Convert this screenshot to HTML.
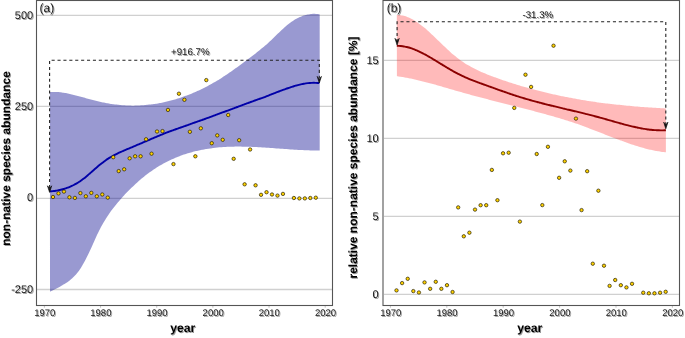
<!DOCTYPE html>
<html><head><meta charset="utf-8"><title>chart</title><style>
html,body{margin:0;padding:0;background:#fff;}
body{width:685px;height:338px;overflow:hidden;}
svg{display:block;}
text{font-family:"Liberation Sans", sans-serif;fill:#1a1a1a;text-rendering:geometricPrecision;}
.grid{stroke:#d0d0d0;stroke-width:1.3;}
.frame{fill:none;stroke:#555;stroke-width:1.1;}
.tick{stroke:#b0b0b0;stroke-width:0.8;}
.dash{fill:none;stroke:#222;stroke-width:1.1;stroke-dasharray:3.1,2.8;}
.arr{fill:#111;stroke:#111;stroke-width:0.7;stroke-linejoin:miter;}
.pl{font-size:12px;}
.ann{font-size:9.7px;}
.yl{font-size:11px;}
.tl{font-size:9.5px;}
.xt{font-size:12.2px;font-weight:bold;fill:#000;}
.yt{font-size:12px;font-weight:bold;fill:#000;}
</style></head><body>
<svg width="685" height="338" viewBox="0 0 685 338">
<defs>
<filter id="sh" x="-10%" y="-10%" width="130%" height="140%"><feGaussianBlur in="SourceAlpha" stdDeviation="0.75"/><feOffset dx="0.9" dy="1.1" result="b"/><feComponentTransfer><feFuncA type="linear" slope="0.4"/></feComponentTransfer><feMerge><feMergeNode/><feMergeNode in="SourceGraphic"/></feMerge></filter>
<clipPath id="ca"><rect x="37" y="1" width="295" height="304"/></clipPath>
<clipPath id="cb"><rect x="384" y="1" width="295" height="304"/></clipPath>
</defs>
<rect width="685" height="338" fill="#fff"/>
<g clip-path="url(#ca)">
<line x1="37" x2="332" y1="15.3" y2="15.3" class="grid"/>
<line x1="37" x2="332" y1="106.3" y2="106.3" class="grid"/>
<line x1="37" x2="332" y1="198.3" y2="198.3" class="grid"/>
<line x1="37" x2="332" y1="289.5" y2="289.5" class="grid"/>
<path d="M49.90,92.12 C50.23,92.10 51.23,92.00 51.90,91.97 C52.57,91.93 53.23,91.91 53.90,91.91 C54.57,91.90 55.23,91.91 55.90,91.93 C56.57,91.95 57.23,91.99 57.90,92.03 C58.57,92.08 59.23,92.14 59.90,92.21 C60.57,92.28 61.23,92.36 61.90,92.45 C62.57,92.54 63.23,92.64 63.90,92.75 C64.57,92.86 65.23,92.98 65.90,93.10 C66.57,93.23 67.23,93.36 67.90,93.50 C68.57,93.64 69.23,93.79 69.90,93.94 C70.57,94.09 71.23,94.25 71.90,94.41 C72.57,94.58 73.23,94.74 73.90,94.91 C74.57,95.09 75.23,95.26 75.90,95.44 C76.57,95.61 77.23,95.79 77.90,95.97 C78.57,96.15 79.23,96.34 79.90,96.52 C80.57,96.70 81.23,96.88 81.90,97.07 C82.57,97.25 83.23,97.43 83.90,97.61 C84.57,97.80 85.23,97.98 85.90,98.16 C86.57,98.34 87.23,98.52 87.90,98.70 C88.57,98.88 89.23,99.05 89.90,99.23 C90.57,99.41 91.23,99.58 91.90,99.75 C92.57,99.93 93.23,100.10 93.90,100.27 C94.57,100.44 95.23,100.60 95.90,100.77 C96.57,100.93 97.23,101.09 97.90,101.25 C98.57,101.41 99.23,101.57 99.90,101.72 C100.57,101.87 101.23,102.02 101.90,102.17 C102.57,102.31 103.23,102.46 103.90,102.59 C104.57,102.73 105.23,102.87 105.90,103.00 C106.57,103.13 107.23,103.25 107.90,103.37 C108.57,103.49 109.23,103.61 109.90,103.72 C110.57,103.83 111.23,103.94 111.90,104.04 C112.57,104.14 113.23,104.24 113.90,104.33 C114.57,104.42 115.23,104.51 115.90,104.59 C116.57,104.68 117.23,104.75 117.90,104.83 C118.57,104.90 119.23,104.97 119.90,105.03 C120.57,105.09 121.23,105.15 121.90,105.20 C122.57,105.26 123.23,105.30 123.90,105.35 C124.57,105.39 125.23,105.43 125.90,105.46 C126.57,105.50 127.23,105.53 127.90,105.55 C128.57,105.57 129.23,105.59 129.90,105.61 C130.57,105.62 131.23,105.63 131.90,105.64 C132.57,105.64 133.23,105.64 133.90,105.64 C134.57,105.63 135.23,105.63 135.90,105.61 C136.57,105.60 137.23,105.58 137.90,105.56 C138.57,105.53 139.23,105.50 139.90,105.47 C140.57,105.44 141.23,105.40 141.90,105.36 C142.57,105.32 143.23,105.27 143.90,105.22 C144.57,105.16 145.23,105.11 145.90,105.05 C146.57,104.99 147.23,104.92 147.90,104.85 C148.57,104.78 149.23,104.70 149.90,104.62 C150.57,104.54 151.23,104.46 151.90,104.37 C152.57,104.28 153.23,104.19 153.90,104.09 C154.57,103.99 155.23,103.88 155.90,103.78 C156.57,103.67 157.23,103.56 157.90,103.44 C158.57,103.32 159.23,103.20 159.90,103.07 C160.57,102.94 161.23,102.81 161.90,102.68 C162.57,102.54 163.23,102.40 163.90,102.26 C164.57,102.11 165.23,101.96 165.90,101.81 C166.57,101.65 167.23,101.49 167.90,101.33 C168.57,101.17 169.23,101.00 169.90,100.82 C170.57,100.65 171.23,100.47 171.90,100.29 C172.57,100.11 173.23,99.92 173.90,99.73 C174.57,99.54 175.23,99.35 175.90,99.15 C176.57,98.95 177.23,98.74 177.90,98.53 C178.57,98.32 179.23,98.11 179.90,97.89 C180.57,97.67 181.23,97.45 181.90,97.22 C182.57,96.99 183.23,96.76 183.90,96.52 C184.57,96.29 185.23,96.05 185.90,95.80 C186.57,95.56 187.23,95.30 187.90,95.05 C188.57,94.79 189.23,94.53 189.90,94.27 C190.57,94.01 191.23,93.74 191.90,93.46 C192.57,93.19 193.23,92.91 193.90,92.62 C194.57,92.34 195.23,92.05 195.90,91.76 C196.57,91.46 197.23,91.16 197.90,90.86 C198.57,90.56 199.23,90.25 199.90,89.93 C200.57,89.62 201.23,89.30 201.90,88.98 C202.57,88.65 203.23,88.32 203.90,87.99 C204.57,87.65 205.23,87.31 205.90,86.97 C206.57,86.62 207.23,86.27 207.90,85.92 C208.57,85.56 209.23,85.20 209.90,84.84 C210.57,84.47 211.23,84.10 211.90,83.72 C212.57,83.34 213.23,82.96 213.90,82.57 C214.57,82.18 215.23,81.79 215.90,81.39 C216.57,80.99 217.23,80.59 217.90,80.18 C218.57,79.77 219.23,79.35 219.90,78.93 C220.57,78.51 221.23,78.09 221.90,77.66 C222.57,77.23 223.23,76.79 223.90,76.35 C224.57,75.92 225.23,75.47 225.90,75.03 C226.57,74.58 227.23,74.13 227.90,73.68 C228.57,73.22 229.23,72.76 229.90,72.30 C230.57,71.84 231.23,71.38 231.90,70.91 C232.57,70.44 233.23,69.97 233.90,69.50 C234.57,69.03 235.23,68.55 235.90,68.07 C236.57,67.59 237.23,67.11 237.90,66.63 C238.57,66.15 239.23,65.66 239.90,65.18 C240.57,64.69 241.23,64.20 241.90,63.71 C242.57,63.23 243.23,62.73 243.90,62.24 C244.57,61.75 245.23,61.26 245.90,60.76 C246.57,60.27 247.23,59.78 247.90,59.28 C248.57,58.78 249.23,58.28 249.90,57.78 C250.57,57.28 251.23,56.77 251.90,56.27 C252.57,55.76 253.23,55.25 253.90,54.74 C254.57,54.22 255.23,53.70 255.90,53.18 C256.57,52.66 257.23,52.13 257.90,51.60 C258.57,51.06 259.23,50.53 259.90,49.98 C260.57,49.44 261.23,48.89 261.90,48.33 C262.57,47.78 263.23,47.21 263.90,46.64 C264.57,46.07 265.23,45.50 265.90,44.91 C266.57,44.33 267.23,43.73 267.90,43.13 C268.57,42.53 269.23,41.92 269.90,41.30 C270.57,40.68 271.23,40.05 271.90,39.42 C272.57,38.78 273.23,38.14 273.90,37.49 C274.57,36.85 275.23,36.20 275.90,35.55 C276.57,34.90 277.23,34.25 277.90,33.61 C278.57,32.96 279.23,32.32 279.90,31.68 C280.57,31.04 281.23,30.41 281.90,29.79 C282.57,29.17 283.23,28.56 283.90,27.97 C284.57,27.37 285.23,26.78 285.90,26.22 C286.57,25.65 287.23,25.10 287.90,24.57 C288.57,24.04 289.23,23.52 289.90,23.03 C290.57,22.53 291.23,22.06 291.90,21.60 C292.57,21.15 293.23,20.71 293.90,20.29 C294.57,19.88 295.23,19.48 295.90,19.10 C296.57,18.72 297.23,18.36 297.90,18.02 C298.57,17.69 299.23,17.37 299.90,17.07 C300.57,16.77 301.23,16.49 301.90,16.24 C302.57,15.98 303.23,15.74 303.90,15.52 C304.57,15.31 305.23,15.11 305.90,14.94 C306.57,14.76 307.23,14.61 307.90,14.47 C308.57,14.34 309.23,14.23 309.90,14.14 C310.57,14.05 311.23,13.98 311.90,13.94 C312.57,13.89 313.23,13.86 313.90,13.86 C314.57,13.86 315.23,13.88 315.90,13.92 C316.57,13.96 317.27,14.03 317.90,14.11 C318.53,14.19 319.40,14.35 319.70,14.39 L319.70,150.53 C319.42,150.53 318.62,150.53 318.00,150.53 C317.38,150.53 316.67,150.53 316.00,150.52 C315.33,150.52 314.67,150.51 314.00,150.50 C313.33,150.49 312.67,150.48 312.00,150.46 C311.33,150.45 310.67,150.43 310.00,150.41 C309.33,150.39 308.67,150.37 308.00,150.35 C307.33,150.33 306.67,150.31 306.00,150.28 C305.33,150.25 304.67,150.23 304.00,150.20 C303.33,150.17 302.67,150.14 302.00,150.11 C301.33,150.07 300.67,150.04 300.00,150.01 C299.33,149.97 298.67,149.94 298.00,149.90 C297.33,149.86 296.67,149.82 296.00,149.78 C295.33,149.74 294.67,149.70 294.00,149.66 C293.33,149.62 292.67,149.58 292.00,149.53 C291.33,149.49 290.67,149.45 290.00,149.40 C289.33,149.36 288.67,149.31 288.00,149.26 C287.33,149.22 286.67,149.17 286.00,149.12 C285.33,149.08 284.67,149.03 284.00,148.98 C283.33,148.93 282.67,148.88 282.00,148.84 C281.33,148.79 280.67,148.74 280.00,148.69 C279.33,148.64 278.67,148.59 278.00,148.54 C277.33,148.49 276.67,148.44 276.00,148.40 C275.33,148.35 274.67,148.30 274.00,148.25 C273.33,148.20 272.67,148.15 272.00,148.11 C271.33,148.06 270.67,148.01 270.00,147.96 C269.33,147.92 268.67,147.87 268.00,147.82 C267.33,147.78 266.67,147.73 266.00,147.69 C265.33,147.64 264.67,147.60 264.00,147.56 C263.33,147.52 262.67,147.47 262.00,147.43 C261.33,147.39 260.67,147.35 260.00,147.31 C259.33,147.27 258.67,147.24 258.00,147.20 C257.33,147.16 256.67,147.13 256.00,147.10 C255.33,147.06 254.67,147.03 254.00,147.00 C253.33,146.97 252.67,146.94 252.00,146.91 C251.33,146.88 250.67,146.86 250.00,146.83 C249.33,146.81 248.67,146.79 248.00,146.76 C247.33,146.74 246.67,146.72 246.00,146.71 C245.33,146.69 244.67,146.68 244.00,146.66 C243.33,146.65 242.67,146.64 242.00,146.63 C241.33,146.62 240.67,146.62 240.00,146.61 C239.33,146.61 238.67,146.61 238.00,146.61 C237.33,146.61 236.67,146.61 236.00,146.62 C235.33,146.62 234.67,146.63 234.00,146.64 C233.33,146.65 232.67,146.67 232.00,146.69 C231.33,146.70 230.67,146.72 230.00,146.74 C229.33,146.77 228.67,146.79 228.00,146.82 C227.33,146.85 226.67,146.88 226.00,146.92 C225.33,146.95 224.67,146.99 224.00,147.03 C223.33,147.07 222.67,147.12 222.00,147.17 C221.33,147.22 220.67,147.27 220.00,147.32 C219.33,147.38 218.67,147.44 218.00,147.50 C217.33,147.56 216.67,147.63 216.00,147.70 C215.33,147.77 214.67,147.84 214.00,147.92 C213.33,148.00 212.67,148.08 212.00,148.17 C211.33,148.26 210.67,148.35 210.00,148.44 C209.33,148.54 208.67,148.63 208.00,148.74 C207.33,148.84 206.67,148.95 206.00,149.06 C205.33,149.17 204.67,149.29 204.00,149.41 C203.33,149.53 202.67,149.66 202.00,149.79 C201.33,149.92 200.67,150.06 200.00,150.20 C199.33,150.34 198.67,150.48 198.00,150.63 C197.33,150.79 196.67,150.94 196.00,151.10 C195.33,151.26 194.67,151.43 194.00,151.60 C193.33,151.77 192.67,151.95 192.00,152.13 C191.33,152.31 190.67,152.50 190.00,152.69 C189.33,152.89 188.67,153.08 188.00,153.29 C187.33,153.49 186.67,153.70 186.00,153.92 C185.33,154.14 184.67,154.36 184.00,154.59 C183.33,154.81 182.67,155.05 182.00,155.29 C181.33,155.53 180.67,155.77 180.00,156.02 C179.33,156.28 178.67,156.53 178.00,156.80 C177.33,157.06 176.67,157.33 176.00,157.61 C175.33,157.89 174.67,158.17 174.00,158.46 C173.33,158.76 172.67,159.05 172.00,159.36 C171.33,159.66 170.67,159.97 170.00,160.29 C169.33,160.61 168.67,160.93 168.00,161.26 C167.33,161.59 166.67,161.93 166.00,162.28 C165.33,162.62 164.67,162.98 164.00,163.34 C163.33,163.70 162.67,164.07 162.00,164.44 C161.33,164.82 160.67,165.20 160.00,165.59 C159.33,165.98 158.67,166.37 158.00,166.78 C157.33,167.18 156.67,167.60 156.00,168.02 C155.33,168.44 154.67,168.87 154.00,169.30 C153.33,169.74 152.67,170.18 152.00,170.64 C151.33,171.09 150.67,171.54 150.00,172.02 C149.33,172.49 148.67,173.00 148.00,173.50 C147.33,174.01 146.67,174.52 146.00,175.04 C145.33,175.56 144.67,176.09 144.00,176.63 C143.33,177.16 142.67,177.71 142.00,178.26 C141.33,178.82 140.67,179.37 140.00,179.95 C139.33,180.52 138.67,181.12 138.00,181.71 C137.33,182.31 136.67,182.91 136.00,183.53 C135.33,184.14 134.67,184.76 134.00,185.39 C133.33,186.02 132.67,186.66 132.00,187.31 C131.33,187.95 130.67,188.61 130.00,189.27 C129.33,189.94 128.67,190.61 128.00,191.29 C127.33,191.97 126.67,192.65 126.00,193.35 C125.33,194.05 124.67,194.76 124.00,195.48 C123.33,196.20 122.67,196.94 122.00,197.68 C121.33,198.42 120.67,199.16 120.00,199.92 C119.33,200.68 118.67,201.45 118.00,202.24 C117.33,203.03 116.67,203.84 116.00,204.66 C115.33,205.48 114.67,206.30 114.00,207.14 C113.33,207.98 112.67,208.83 112.00,209.71 C111.33,210.60 110.67,211.51 110.00,212.45 C109.33,213.40 108.67,214.37 108.00,215.39 C107.33,216.41 106.67,217.47 106.00,218.55 C105.33,219.63 104.67,220.72 104.00,221.85 C103.33,222.97 102.67,224.10 102.00,225.31 C101.33,226.51 100.67,227.76 100.00,229.06 C99.33,230.36 98.67,231.72 98.00,233.10 C97.33,234.48 96.67,235.90 96.00,237.33 C95.33,238.77 94.67,240.25 94.00,241.72 C93.33,243.19 92.67,244.70 92.00,246.16 C91.33,247.63 90.67,249.09 90.00,250.52 C89.33,251.95 88.67,253.36 88.00,254.73 C87.33,256.10 86.67,257.44 86.00,258.74 C85.33,260.05 84.67,261.33 84.00,262.55 C83.33,263.78 82.67,264.98 82.00,266.09 C81.33,267.21 80.67,268.28 80.00,269.27 C79.33,270.26 78.67,271.18 78.00,272.05 C77.33,272.92 76.67,273.72 76.00,274.48 C75.33,275.24 74.67,275.94 74.00,276.61 C73.33,277.27 72.67,277.89 72.00,278.48 C71.33,279.07 70.67,279.61 70.00,280.14 C69.33,280.66 68.67,281.16 68.00,281.64 C67.33,282.12 66.67,282.57 66.00,283.02 C65.33,283.46 64.67,283.89 64.00,284.31 C63.33,284.72 62.67,285.12 62.00,285.52 C61.33,285.91 60.67,286.28 60.00,286.66 C59.33,287.03 58.67,287.39 58.00,287.74 C57.33,288.09 56.67,288.44 56.00,288.78 C55.33,289.12 54.67,289.46 54.00,289.79 C53.33,290.12 52.67,290.45 52.00,290.78 C51.33,291.11 50.33,291.60 50.00,291.76 Z" fill="#00008b" fill-opacity="0.4"/>
<path d="M49.80,191.40 C50.13,191.37 51.13,191.30 51.80,191.24 C52.47,191.17 53.13,191.10 53.80,191.02 C54.47,190.94 55.13,190.85 55.80,190.75 C56.47,190.64 57.13,190.53 57.80,190.41 C58.47,190.29 59.13,190.15 59.80,190.01 C60.47,189.86 61.13,189.70 61.80,189.53 C62.47,189.36 63.13,189.18 63.80,188.99 C64.47,188.79 65.13,188.58 65.80,188.36 C66.47,188.14 67.13,187.91 67.80,187.66 C68.47,187.41 69.13,187.14 69.80,186.86 C70.47,186.58 71.13,186.29 71.80,185.98 C72.47,185.67 73.13,185.34 73.80,185.00 C74.47,184.66 75.13,184.30 75.80,183.92 C76.47,183.55 77.13,183.16 77.80,182.75 C78.47,182.33 79.13,181.91 79.80,181.46 C80.47,181.01 81.13,180.55 81.80,180.06 C82.47,179.58 83.13,179.08 83.80,178.56 C84.47,178.03 85.13,177.49 85.80,176.94 C86.47,176.38 87.13,175.81 87.80,175.23 C88.47,174.66 89.13,174.07 89.80,173.48 C90.47,172.89 91.13,172.30 91.80,171.71 C92.47,171.11 93.13,170.52 93.80,169.94 C94.47,169.35 95.13,168.77 95.80,168.19 C96.47,167.61 97.13,167.04 97.80,166.48 C98.47,165.92 99.13,165.36 99.80,164.82 C100.47,164.27 101.13,163.74 101.80,163.22 C102.47,162.70 103.13,162.19 103.80,161.70 C104.47,161.20 105.13,160.72 105.80,160.26 C106.47,159.80 107.13,159.35 107.80,158.92 C108.47,158.49 109.13,158.07 109.80,157.67 C110.47,157.26 111.13,156.87 111.80,156.49 C112.47,156.11 113.13,155.74 113.80,155.38 C114.47,155.02 115.13,154.68 115.80,154.34 C116.47,154.00 117.13,153.67 117.80,153.35 C118.47,153.03 119.13,152.71 119.80,152.41 C120.47,152.10 121.13,151.80 121.80,151.50 C122.47,151.20 123.13,150.91 123.80,150.63 C124.47,150.34 125.13,150.06 125.80,149.78 C126.47,149.49 127.13,149.22 127.80,148.94 C128.47,148.66 129.13,148.39 129.80,148.11 C130.47,147.83 131.13,147.56 131.80,147.28 C132.47,147.00 133.13,146.72 133.80,146.44 C134.47,146.16 135.13,145.88 135.80,145.59 C136.47,145.31 137.13,145.03 137.80,144.74 C138.47,144.46 139.13,144.17 139.80,143.89 C140.47,143.60 141.13,143.31 141.80,143.03 C142.47,142.74 143.13,142.45 143.80,142.17 C144.47,141.88 145.13,141.59 145.80,141.30 C146.47,141.02 147.13,140.73 147.80,140.44 C148.47,140.15 149.13,139.87 149.80,139.58 C150.47,139.29 151.13,139.01 151.80,138.72 C152.47,138.44 153.13,138.15 153.80,137.87 C154.47,137.59 155.13,137.30 155.80,137.02 C156.47,136.74 157.13,136.46 157.80,136.18 C158.47,135.90 159.13,135.62 159.80,135.34 C160.47,135.07 161.13,134.79 161.80,134.52 C162.47,134.24 163.13,133.97 163.80,133.70 C164.47,133.44 165.13,133.17 165.80,132.92 C166.47,132.66 167.13,132.42 167.80,132.17 C168.47,131.92 169.13,131.67 169.80,131.43 C170.47,131.18 171.13,130.94 171.80,130.70 C172.47,130.45 173.13,130.21 173.80,129.97 C174.47,129.73 175.13,129.49 175.80,129.26 C176.47,129.02 177.13,128.78 177.80,128.54 C178.47,128.31 179.13,128.07 179.80,127.84 C180.47,127.61 181.13,127.37 181.80,127.14 C182.47,126.91 183.13,126.68 183.80,126.45 C184.47,126.21 185.13,125.98 185.80,125.74 C186.47,125.50 187.13,125.26 187.80,125.02 C188.47,124.78 189.13,124.54 189.80,124.30 C190.47,124.06 191.13,123.82 191.80,123.58 C192.47,123.34 193.13,123.11 193.80,122.87 C194.47,122.63 195.13,122.40 195.80,122.16 C196.47,121.93 197.13,121.69 197.80,121.46 C198.47,121.22 199.13,120.99 199.80,120.75 C200.47,120.52 201.13,120.28 201.80,120.05 C202.47,119.82 203.13,119.59 203.80,119.35 C204.47,119.11 205.13,118.88 205.80,118.64 C206.47,118.39 207.13,118.14 207.80,117.90 C208.47,117.65 209.13,117.41 209.80,117.16 C210.47,116.92 211.13,116.67 211.80,116.43 C212.47,116.18 213.13,115.93 213.80,115.69 C214.47,115.44 215.13,115.20 215.80,114.95 C216.47,114.71 217.13,114.46 217.80,114.21 C218.47,113.97 219.13,113.72 219.80,113.47 C220.47,113.23 221.13,112.98 221.80,112.73 C222.47,112.49 223.13,112.24 223.80,111.99 C224.47,111.74 225.13,111.50 225.80,111.25 C226.47,111.01 227.13,110.77 227.80,110.53 C228.47,110.28 229.13,110.04 229.80,109.80 C230.47,109.55 231.13,109.31 231.80,109.06 C232.47,108.82 233.13,108.57 233.80,108.33 C234.47,108.08 235.13,107.83 235.80,107.58 C236.47,107.34 237.13,107.09 237.80,106.84 C238.47,106.59 239.13,106.34 239.80,106.09 C240.47,105.83 241.13,105.58 241.80,105.33 C242.47,105.08 243.13,104.82 243.80,104.57 C244.47,104.32 245.13,104.07 245.80,103.82 C246.47,103.58 247.13,103.34 247.80,103.10 C248.47,102.86 249.13,102.62 249.80,102.38 C250.47,102.14 251.13,101.89 251.80,101.65 C252.47,101.41 253.13,101.17 253.80,100.93 C254.47,100.68 255.13,100.44 255.80,100.20 C256.47,99.96 257.13,99.71 257.80,99.47 C258.47,99.23 259.13,98.99 259.80,98.75 C260.47,98.50 261.13,98.26 261.80,98.02 C262.47,97.78 263.13,97.55 263.80,97.30 C264.47,97.06 265.13,96.81 265.80,96.55 C266.47,96.29 267.13,96.02 267.80,95.76 C268.47,95.49 269.13,95.23 269.80,94.97 C270.47,94.71 271.13,94.45 271.80,94.19 C272.47,93.93 273.13,93.67 273.80,93.41 C274.47,93.16 275.13,92.90 275.80,92.65 C276.47,92.39 277.13,92.14 277.80,91.89 C278.47,91.64 279.13,91.39 279.80,91.14 C280.47,90.89 281.13,90.64 281.80,90.40 C282.47,90.15 283.13,89.91 283.80,89.67 C284.47,89.43 285.13,89.19 285.80,88.95 C286.47,88.70 287.13,88.46 287.80,88.23 C288.47,87.99 289.13,87.76 289.80,87.53 C290.47,87.30 291.13,87.08 291.80,86.86 C292.47,86.65 293.13,86.43 293.80,86.23 C294.47,86.02 295.13,85.82 295.80,85.63 C296.47,85.44 297.13,85.25 297.80,85.07 C298.47,84.89 299.13,84.72 299.80,84.56 C300.47,84.40 301.13,84.25 301.80,84.12 C302.47,83.98 303.13,83.85 303.80,83.73 C304.47,83.61 305.13,83.50 305.80,83.41 C306.47,83.31 307.13,83.22 307.80,83.14 C308.47,83.07 309.13,83.00 309.80,82.95 C310.47,82.90 311.13,82.86 311.80,82.83 C312.47,82.80 313.13,82.79 313.80,82.79 C314.47,82.79 315.13,82.80 315.80,82.83 C316.47,82.85 317.22,82.90 317.80,82.95 C318.38,83.00 319.05,83.08 319.30,83.10" fill="none" stroke="#0000a8" stroke-width="1.9" stroke-linecap="butt"/>
<g fill="#ffd200" stroke="#262000" stroke-width="0.7"><circle cx="53.00" cy="197.00" r="1.7"/>
<circle cx="58.48" cy="193.40" r="1.7"/>
<circle cx="63.95" cy="191.60" r="1.7"/>
<circle cx="69.42" cy="197.30" r="1.7"/>
<circle cx="74.90" cy="197.90" r="1.7"/>
<circle cx="80.38" cy="193.10" r="1.7"/>
<circle cx="85.85" cy="196.30" r="1.7"/>
<circle cx="91.32" cy="192.90" r="1.7"/>
<circle cx="96.80" cy="196.30" r="1.7"/>
<circle cx="102.28" cy="194.50" r="1.7"/>
<circle cx="107.75" cy="197.60" r="1.7"/>
<circle cx="113.22" cy="157.20" r="1.7"/>
<circle cx="118.70" cy="171.10" r="1.7"/>
<circle cx="124.17" cy="169.30" r="1.7"/>
<circle cx="129.65" cy="158.30" r="1.7"/>
<circle cx="135.12" cy="156.30" r="1.7"/>
<circle cx="140.60" cy="156.30" r="1.7"/>
<circle cx="146.07" cy="139.30" r="1.7"/>
<circle cx="151.55" cy="153.70" r="1.7"/>
<circle cx="157.02" cy="131.50" r="1.7"/>
<circle cx="162.50" cy="131.10" r="1.7"/>
<circle cx="167.97" cy="109.90" r="1.7"/>
<circle cx="173.45" cy="164.10" r="1.7"/>
<circle cx="178.93" cy="93.70" r="1.7"/>
<circle cx="184.40" cy="99.80" r="1.7"/>
<circle cx="189.88" cy="131.80" r="1.7"/>
<circle cx="195.35" cy="156.30" r="1.7"/>
<circle cx="200.82" cy="128.30" r="1.7"/>
<circle cx="206.30" cy="80.10" r="1.7"/>
<circle cx="211.77" cy="143.20" r="1.7"/>
<circle cx="217.25" cy="135.40" r="1.7"/>
<circle cx="222.72" cy="139.80" r="1.7"/>
<circle cx="228.20" cy="115.00" r="1.7"/>
<circle cx="233.67" cy="158.80" r="1.7"/>
<circle cx="239.15" cy="140.20" r="1.7"/>
<circle cx="244.62" cy="184.30" r="1.7"/>
<circle cx="250.10" cy="149.50" r="1.7"/>
<circle cx="255.57" cy="185.30" r="1.7"/>
<circle cx="261.05" cy="194.80" r="1.7"/>
<circle cx="266.52" cy="192.20" r="1.7"/>
<circle cx="272.00" cy="194.50" r="1.7"/>
<circle cx="277.48" cy="195.60" r="1.7"/>
<circle cx="282.95" cy="193.90" r="1.7"/>
<circle cx="293.90" cy="198.00" r="1.7"/>
<circle cx="299.38" cy="198.40" r="1.7"/>
<circle cx="304.85" cy="198.40" r="1.7"/>
<circle cx="310.32" cy="198.00" r="1.7"/>
<circle cx="315.80" cy="197.70" r="1.7"/></g>
<path d="M49.6,188 L49.6,60.2 L319.3,60.2 L319.3,78" class="dash"/>
<path d="M49.60,192.40 L47.50,185.80 L49.60,188.60 L51.70,185.80 Z" class="arr"/>
<path d="M319.30,83.00 L317.20,76.40 L319.30,79.20 L321.40,76.40 Z" class="arr"/>
</g>
<rect x="36.5" y="0.5" width="296.0" height="305.0" class="frame"/>
<g clip-path="url(#cb)">
<line x1="384" x2="679" y1="60.3" y2="60.3" class="grid"/>
<line x1="384" x2="679" y1="138.3" y2="138.3" class="grid"/>
<line x1="384" x2="679" y1="216.3" y2="216.3" class="grid"/>
<line x1="384" x2="679" y1="294.3" y2="294.3" class="grid"/>
<path d="M396.80,14.99 C397.13,14.99 398.13,14.96 398.80,14.99 C399.47,15.02 400.13,15.09 400.80,15.18 C401.47,15.26 402.13,15.38 402.80,15.53 C403.47,15.67 404.13,15.84 404.80,16.04 C405.47,16.23 406.13,16.46 406.80,16.70 C407.47,16.95 408.13,17.22 408.80,17.51 C409.47,17.80 410.13,18.11 410.80,18.45 C411.47,18.79 412.13,19.14 412.80,19.52 C413.47,19.89 414.13,20.29 414.80,20.71 C415.47,21.12 416.13,21.55 416.80,22.00 C417.47,22.45 418.13,22.92 418.80,23.40 C419.47,23.88 420.13,24.38 420.80,24.89 C421.47,25.40 422.13,25.93 422.80,26.47 C423.47,27.01 424.13,27.56 424.80,28.12 C425.47,28.69 426.13,29.26 426.80,29.84 C427.47,30.43 428.13,31.02 428.80,31.62 C429.47,32.23 430.13,32.84 430.80,33.45 C431.47,34.07 432.13,34.69 432.80,35.32 C433.47,35.95 434.13,36.59 434.80,37.22 C435.47,37.86 436.13,38.50 436.80,39.14 C437.47,39.79 438.13,40.43 438.80,41.08 C439.47,41.72 440.13,42.37 440.80,43.01 C441.47,43.66 442.13,44.30 442.80,44.94 C443.47,45.59 444.13,46.22 444.80,46.86 C445.47,47.49 446.13,48.12 446.80,48.75 C447.47,49.37 448.13,49.99 448.80,50.60 C449.47,51.21 450.13,51.82 450.80,52.41 C451.47,53.00 452.13,53.59 452.80,54.17 C453.47,54.74 454.13,55.31 454.80,55.86 C455.47,56.41 456.13,56.95 456.80,57.48 C457.47,58.01 458.13,58.52 458.80,59.02 C459.47,59.52 460.13,60.01 460.80,60.48 C461.47,60.96 462.13,61.42 462.80,61.87 C463.47,62.32 464.13,62.75 464.80,63.18 C465.47,63.60 466.13,64.02 466.80,64.42 C467.47,64.83 468.13,65.22 468.80,65.61 C469.47,65.99 470.13,66.36 470.80,66.73 C471.47,67.09 472.13,67.45 472.80,67.80 C473.47,68.15 474.13,68.49 474.80,68.82 C475.47,69.15 476.13,69.48 476.80,69.79 C477.47,70.11 478.13,70.42 478.80,70.73 C479.47,71.04 480.13,71.33 480.80,71.63 C481.47,71.92 482.13,72.21 482.80,72.50 C483.47,72.78 484.13,73.06 484.80,73.34 C485.47,73.62 486.13,73.89 486.80,74.16 C487.47,74.43 488.13,74.70 488.80,74.96 C489.47,75.23 490.13,75.49 490.80,75.75 C491.47,76.01 492.13,76.26 492.80,76.52 C493.47,76.77 494.13,77.02 494.80,77.27 C495.47,77.52 496.13,77.77 496.80,78.01 C497.47,78.25 498.13,78.49 498.80,78.73 C499.47,78.97 500.13,79.21 500.80,79.44 C501.47,79.68 502.13,79.91 502.80,80.14 C503.47,80.37 504.13,80.60 504.80,80.82 C505.47,81.05 506.13,81.27 506.80,81.50 C507.47,81.72 508.13,81.94 508.80,82.15 C509.47,82.37 510.13,82.59 510.80,82.80 C511.47,83.02 512.13,83.23 512.80,83.44 C513.47,83.65 514.13,83.86 514.80,84.06 C515.47,84.27 516.13,84.48 516.80,84.68 C517.47,84.88 518.13,85.09 518.80,85.29 C519.47,85.49 520.13,85.69 520.80,85.88 C521.47,86.08 522.13,86.28 522.80,86.47 C523.47,86.66 524.13,86.86 524.80,87.05 C525.47,87.24 526.13,87.43 526.80,87.62 C527.47,87.80 528.13,87.99 528.80,88.17 C529.47,88.36 530.13,88.54 530.80,88.72 C531.47,88.91 532.13,89.09 532.80,89.26 C533.47,89.44 534.13,89.62 534.80,89.79 C535.47,89.97 536.13,90.14 536.80,90.32 C537.47,90.49 538.13,90.66 538.80,90.83 C539.47,91.00 540.13,91.17 540.80,91.33 C541.47,91.50 542.13,91.66 542.80,91.83 C543.47,91.99 544.13,92.15 544.80,92.31 C545.47,92.47 546.13,92.63 546.80,92.79 C547.47,92.95 548.13,93.10 548.80,93.26 C549.47,93.41 550.13,93.57 550.80,93.72 C551.47,93.87 552.13,94.02 552.80,94.17 C553.47,94.32 554.13,94.47 554.80,94.62 C555.47,94.76 556.13,94.91 556.80,95.05 C557.47,95.19 558.13,95.34 558.80,95.48 C559.47,95.62 560.13,95.76 560.80,95.90 C561.47,96.03 562.13,96.17 562.80,96.31 C563.47,96.44 564.13,96.58 564.80,96.71 C565.47,96.84 566.13,96.97 566.80,97.10 C567.47,97.24 568.13,97.36 568.80,97.49 C569.47,97.62 570.13,97.75 570.80,97.87 C571.47,98.00 572.13,98.12 572.80,98.24 C573.47,98.37 574.13,98.49 574.80,98.61 C575.47,98.73 576.13,98.85 576.80,98.96 C577.47,99.08 578.13,99.20 578.80,99.31 C579.47,99.43 580.13,99.54 580.80,99.65 C581.47,99.77 582.13,99.88 582.80,99.99 C583.47,100.10 584.13,100.21 584.80,100.32 C585.47,100.42 586.13,100.53 586.80,100.64 C587.47,100.74 588.13,100.85 588.80,100.95 C589.47,101.05 590.13,101.16 590.80,101.26 C591.47,101.36 592.13,101.46 592.80,101.56 C593.47,101.65 594.13,101.75 594.80,101.85 C595.47,101.94 596.13,102.04 596.80,102.13 C597.47,102.23 598.13,102.32 598.80,102.41 C599.47,102.51 600.13,102.60 600.80,102.69 C601.47,102.78 602.13,102.86 602.80,102.95 C603.47,103.04 604.13,103.13 604.80,103.21 C605.47,103.30 606.13,103.38 606.80,103.47 C607.47,103.55 608.13,103.63 608.80,103.71 C609.47,103.79 610.13,103.87 610.80,103.95 C611.47,104.03 612.13,104.11 612.80,104.19 C613.47,104.27 614.13,104.34 614.80,104.42 C615.47,104.49 616.13,104.57 616.80,104.64 C617.47,104.71 618.13,104.79 618.80,104.86 C619.47,104.93 620.13,105.00 620.80,105.07 C621.47,105.14 622.13,105.21 622.80,105.28 C623.47,105.34 624.13,105.41 624.80,105.48 C625.47,105.54 626.13,105.61 626.80,105.67 C627.47,105.74 628.13,105.80 628.80,105.86 C629.47,105.92 630.13,105.98 630.80,106.04 C631.47,106.10 632.13,106.16 632.80,106.22 C633.47,106.28 634.13,106.34 634.80,106.40 C635.47,106.45 636.13,106.51 636.80,106.56 C637.47,106.62 638.13,106.67 638.80,106.73 C639.47,106.78 640.13,106.83 640.80,106.89 C641.47,106.94 642.13,106.99 642.80,107.04 C643.47,107.09 644.13,107.14 644.80,107.19 C645.47,107.24 646.13,107.29 646.80,107.33 C647.47,107.38 648.13,107.43 648.80,107.47 C649.47,107.52 650.13,107.56 650.80,107.61 C651.47,107.65 652.13,107.69 652.80,107.74 C653.47,107.78 654.13,107.82 654.80,107.86 C655.47,107.90 656.13,107.94 656.80,107.98 C657.47,108.02 658.13,108.06 658.80,108.10 C659.47,108.14 660.13,108.18 660.80,108.21 C661.47,108.25 662.13,108.29 662.80,108.32 C663.47,108.36 664.28,108.40 664.80,108.43 C665.32,108.45 665.72,108.47 665.90,108.48 L665.90,152.24 C665.73,152.23 665.40,152.20 664.90,152.15 C664.40,152.10 663.57,152.01 662.90,151.93 C662.23,151.85 661.57,151.76 660.90,151.67 C660.23,151.58 659.57,151.48 658.90,151.37 C658.23,151.27 657.57,151.16 656.90,151.04 C656.23,150.93 655.57,150.81 654.90,150.68 C654.23,150.55 653.57,150.42 652.90,150.29 C652.23,150.15 651.57,150.01 650.90,149.86 C650.23,149.71 649.57,149.56 648.90,149.40 C648.23,149.25 647.57,149.08 646.90,148.92 C646.23,148.75 645.57,148.58 644.90,148.41 C644.23,148.23 643.57,148.05 642.90,147.87 C642.23,147.69 641.57,147.50 640.90,147.31 C640.23,147.11 639.57,146.92 638.90,146.72 C638.23,146.52 637.57,146.32 636.90,146.11 C636.23,145.91 635.57,145.70 634.90,145.48 C634.23,145.27 633.57,145.05 632.90,144.83 C632.23,144.62 631.57,144.39 630.90,144.17 C630.23,143.94 629.57,143.71 628.90,143.48 C628.23,143.25 627.57,143.02 626.90,142.78 C626.23,142.55 625.57,142.31 624.90,142.07 C624.23,141.83 623.57,141.59 622.90,141.34 C622.23,141.10 621.57,140.85 620.90,140.60 C620.23,140.35 619.57,140.10 618.90,139.85 C618.23,139.60 617.57,139.35 616.90,139.09 C616.23,138.84 615.57,138.58 614.90,138.33 C614.23,138.07 613.57,137.81 612.90,137.55 C612.23,137.29 611.57,137.03 610.90,136.77 C610.23,136.51 609.57,136.25 608.90,135.99 C608.23,135.72 607.57,135.46 606.90,135.20 C606.23,134.94 605.57,134.67 604.90,134.41 C604.23,134.15 603.57,133.88 602.90,133.62 C602.23,133.36 601.57,133.09 600.90,132.83 C600.23,132.57 599.57,132.31 598.90,132.04 C598.23,131.78 597.57,131.52 596.90,131.26 C596.23,131.00 595.57,130.74 594.90,130.48 C594.23,130.22 593.57,129.96 592.90,129.71 C592.23,129.45 591.57,129.20 590.90,128.94 C590.23,128.69 589.57,128.43 588.90,128.18 C588.23,127.93 587.57,127.68 586.90,127.44 C586.23,127.19 585.57,126.94 584.90,126.70 C584.23,126.45 583.57,126.21 582.90,125.97 C582.23,125.73 581.57,125.50 580.90,125.26 C580.23,125.02 579.57,124.79 578.90,124.56 C578.23,124.33 577.57,124.10 576.90,123.87 C576.23,123.64 575.57,123.41 574.90,123.19 C574.23,122.96 573.57,122.74 572.90,122.52 C572.23,122.30 571.57,122.08 570.90,121.86 C570.23,121.64 569.57,121.43 568.90,121.21 C568.23,121.00 567.57,120.78 566.90,120.57 C566.23,120.36 565.57,120.15 564.90,119.94 C564.23,119.73 563.57,119.53 562.90,119.32 C562.23,119.11 561.57,118.91 560.90,118.71 C560.23,118.51 559.57,118.30 558.90,118.10 C558.23,117.90 557.57,117.70 556.90,117.51 C556.23,117.31 555.57,117.11 554.90,116.92 C554.23,116.72 553.57,116.53 552.90,116.34 C552.23,116.14 551.57,115.95 550.90,115.76 C550.23,115.57 549.57,115.38 548.90,115.19 C548.23,115.01 547.57,114.82 546.90,114.63 C546.23,114.45 545.57,114.26 544.90,114.08 C544.23,113.89 543.57,113.71 542.90,113.53 C542.23,113.34 541.57,113.16 540.90,112.98 C540.23,112.80 539.57,112.62 538.90,112.44 C538.23,112.26 537.57,112.08 536.90,111.91 C536.23,111.73 535.57,111.55 534.90,111.38 C534.23,111.20 533.57,111.02 532.90,110.85 C532.23,110.67 531.57,110.50 530.90,110.32 C530.23,110.15 529.57,109.98 528.90,109.80 C528.23,109.63 527.57,109.46 526.90,109.29 C526.23,109.11 525.57,108.94 524.90,108.77 C524.23,108.60 523.57,108.43 522.90,108.26 C522.23,108.09 521.57,107.92 520.90,107.75 C520.23,107.58 519.57,107.41 518.90,107.24 C518.23,107.07 517.57,106.90 516.90,106.73 C516.23,106.56 515.57,106.39 514.90,106.22 C514.23,106.05 513.57,105.89 512.90,105.72 C512.23,105.55 511.57,105.38 510.90,105.21 C510.23,105.04 509.57,104.87 508.90,104.71 C508.23,104.54 507.57,104.37 506.90,104.20 C506.23,104.03 505.57,103.86 504.90,103.70 C504.23,103.53 503.57,103.36 502.90,103.19 C502.23,103.02 501.57,102.85 500.90,102.68 C500.23,102.52 499.57,102.35 498.90,102.18 C498.23,102.01 497.57,101.84 496.90,101.67 C496.23,101.50 495.57,101.33 494.90,101.16 C494.23,100.99 493.57,100.82 492.90,100.65 C492.23,100.48 491.57,100.31 490.90,100.14 C490.23,99.97 489.57,99.80 488.90,99.63 C488.23,99.45 487.57,99.28 486.90,99.11 C486.23,98.94 485.57,98.77 484.90,98.59 C484.23,98.42 483.57,98.25 482.90,98.07 C482.23,97.90 481.57,97.72 480.90,97.55 C480.23,97.37 479.57,97.20 478.90,97.02 C478.23,96.85 477.57,96.67 476.90,96.49 C476.23,96.32 475.57,96.14 474.90,95.96 C474.23,95.78 473.57,95.60 472.90,95.43 C472.23,95.25 471.57,95.07 470.90,94.89 C470.23,94.71 469.57,94.52 468.90,94.34 C468.23,94.16 467.57,93.98 466.90,93.79 C466.23,93.61 465.57,93.43 464.90,93.24 C464.23,93.06 463.57,92.87 462.90,92.68 C462.23,92.50 461.57,92.31 460.90,92.12 C460.23,91.94 459.57,91.75 458.90,91.56 C458.23,91.37 457.57,91.18 456.90,90.98 C456.23,90.79 455.57,90.60 454.90,90.41 C454.23,90.22 453.57,90.02 452.90,89.83 C452.23,89.63 451.57,89.44 450.90,89.25 C450.23,89.05 449.57,88.86 448.90,88.66 C448.23,88.47 447.57,88.27 446.90,88.08 C446.23,87.88 445.57,87.69 444.90,87.50 C444.23,87.30 443.57,87.11 442.90,86.91 C442.23,86.72 441.57,86.53 440.90,86.33 C440.23,86.14 439.57,85.95 438.90,85.76 C438.23,85.57 437.57,85.38 436.90,85.19 C436.23,85.00 435.57,84.81 434.90,84.62 C434.23,84.43 433.57,84.25 432.90,84.06 C432.23,83.87 431.57,83.69 430.90,83.51 C430.23,83.32 429.57,83.14 428.90,82.96 C428.23,82.78 427.57,82.60 426.90,82.43 C426.23,82.25 425.57,82.08 424.90,81.90 C424.23,81.73 423.57,81.56 422.90,81.39 C422.23,81.22 421.57,81.05 420.90,80.89 C420.23,80.72 419.57,80.56 418.90,80.40 C418.23,80.24 417.57,80.08 416.90,79.92 C416.23,79.77 415.57,79.62 414.90,79.46 C414.23,79.31 413.57,79.17 412.90,79.02 C412.23,78.88 411.57,78.73 410.90,78.59 C410.23,78.46 409.57,78.32 408.90,78.19 C408.23,78.05 407.57,77.92 406.90,77.80 C406.23,77.67 405.57,77.55 404.90,77.43 C404.23,77.31 403.57,77.19 402.90,77.08 C402.23,76.97 401.57,76.86 400.90,76.75 C400.23,76.65 399.57,76.54 398.90,76.45 C398.23,76.35 397.23,76.21 396.90,76.17 Z" fill="#ff0000" fill-opacity="0.27"/>
<path d="M396.80,45.84 C397.13,45.84 398.13,45.83 398.80,45.86 C399.47,45.88 400.13,45.92 400.80,45.98 C401.47,46.04 402.13,46.13 402.80,46.22 C403.47,46.32 404.13,46.43 404.80,46.56 C405.47,46.69 406.13,46.84 406.80,47.00 C407.47,47.16 408.13,47.34 408.80,47.53 C409.47,47.72 410.13,47.93 410.80,48.15 C411.47,48.37 412.13,48.60 412.80,48.84 C413.47,49.09 414.13,49.35 414.80,49.61 C415.47,49.88 416.13,50.16 416.80,50.45 C417.47,50.75 418.13,51.05 418.80,51.36 C419.47,51.67 420.13,51.99 420.80,52.32 C421.47,52.65 422.13,52.98 422.80,53.33 C423.47,53.67 424.13,54.03 424.80,54.38 C425.47,54.74 426.13,55.11 426.80,55.48 C427.47,55.85 428.13,56.23 428.80,56.61 C429.47,56.99 430.13,57.38 430.80,57.77 C431.47,58.16 432.13,58.56 432.80,58.96 C433.47,59.36 434.13,59.76 434.80,60.16 C435.47,60.57 436.13,60.97 436.80,61.38 C437.47,61.79 438.13,62.20 438.80,62.61 C439.47,63.02 440.13,63.43 440.80,63.84 C441.47,64.25 442.13,64.66 442.80,65.06 C443.47,65.47 444.13,65.88 444.80,66.29 C445.47,66.69 446.13,67.10 446.80,67.50 C447.47,67.90 448.13,68.29 448.80,68.69 C449.47,69.08 450.13,69.47 450.80,69.86 C451.47,70.24 452.13,70.62 452.80,71.00 C453.47,71.37 454.13,71.74 454.80,72.11 C455.47,72.47 456.13,72.83 456.80,73.18 C457.47,73.53 458.13,73.87 458.80,74.21 C459.47,74.54 460.13,74.87 460.80,75.19 C461.47,75.51 462.13,75.83 462.80,76.14 C463.47,76.45 464.13,76.75 464.80,77.05 C465.47,77.35 466.13,77.64 466.80,77.93 C467.47,78.21 468.13,78.49 468.80,78.77 C469.47,79.05 470.13,79.32 470.80,79.59 C471.47,79.86 472.13,80.13 472.80,80.39 C473.47,80.65 474.13,80.91 474.80,81.16 C475.47,81.42 476.13,81.67 476.80,81.92 C477.47,82.17 478.13,82.42 478.80,82.67 C479.47,82.91 480.13,83.16 480.80,83.40 C481.47,83.64 482.13,83.89 482.80,84.13 C483.47,84.37 484.13,84.61 484.80,84.85 C485.47,85.09 486.13,85.33 486.80,85.57 C487.47,85.81 488.13,86.05 488.80,86.29 C489.47,86.53 490.13,86.77 490.80,87.01 C491.47,87.25 492.13,87.49 492.80,87.73 C493.47,87.97 494.13,88.21 494.80,88.45 C495.47,88.69 496.13,88.93 496.80,89.17 C497.47,89.41 498.13,89.65 498.80,89.89 C499.47,90.13 500.13,90.37 500.80,90.60 C501.47,90.84 502.13,91.08 502.80,91.31 C503.47,91.55 504.13,91.78 504.80,92.01 C505.47,92.25 506.13,92.48 506.80,92.71 C507.47,92.94 508.13,93.17 508.80,93.40 C509.47,93.63 510.13,93.85 510.80,94.08 C511.47,94.30 512.13,94.53 512.80,94.75 C513.47,94.97 514.13,95.19 514.80,95.41 C515.47,95.62 516.13,95.84 516.80,96.05 C517.47,96.27 518.13,96.48 518.80,96.69 C519.47,96.90 520.13,97.11 520.80,97.31 C521.47,97.52 522.13,97.72 522.80,97.92 C523.47,98.12 524.13,98.32 524.80,98.52 C525.47,98.72 526.13,98.91 526.80,99.11 C527.47,99.30 528.13,99.49 528.80,99.68 C529.47,99.87 530.13,100.06 530.80,100.25 C531.47,100.44 532.13,100.62 532.80,100.80 C533.47,100.99 534.13,101.17 534.80,101.35 C535.47,101.53 536.13,101.71 536.80,101.89 C537.47,102.07 538.13,102.25 538.80,102.42 C539.47,102.60 540.13,102.77 540.80,102.94 C541.47,103.12 542.13,103.29 542.80,103.46 C543.47,103.63 544.13,103.80 544.80,103.97 C545.47,104.14 546.13,104.31 546.80,104.47 C547.47,104.64 548.13,104.81 548.80,104.97 C549.47,105.14 550.13,105.30 550.80,105.46 C551.47,105.63 552.13,105.79 552.80,105.95 C553.47,106.12 554.13,106.28 554.80,106.44 C555.47,106.60 556.13,106.76 556.80,106.92 C557.47,107.08 558.13,107.24 558.80,107.40 C559.47,107.56 560.13,107.72 560.80,107.88 C561.47,108.04 562.13,108.20 562.80,108.36 C563.47,108.51 564.13,108.67 564.80,108.83 C565.47,108.99 566.13,109.15 566.80,109.31 C567.47,109.46 568.13,109.62 568.80,109.78 C569.47,109.94 570.13,110.10 570.80,110.26 C571.47,110.42 572.13,110.57 572.80,110.73 C573.47,110.89 574.13,111.05 574.80,111.21 C575.47,111.37 576.13,111.53 576.80,111.69 C577.47,111.85 578.13,112.01 578.80,112.18 C579.47,112.34 580.13,112.50 580.80,112.66 C581.47,112.83 582.13,112.99 582.80,113.15 C583.47,113.32 584.13,113.48 584.80,113.65 C585.47,113.81 586.13,113.98 586.80,114.15 C587.47,114.32 588.13,114.48 588.80,114.65 C589.47,114.82 590.13,114.99 590.80,115.17 C591.47,115.34 592.13,115.51 592.80,115.68 C593.47,115.86 594.13,116.03 594.80,116.21 C595.47,116.39 596.13,116.56 596.80,116.74 C597.47,116.92 598.13,117.10 598.80,117.28 C599.47,117.47 600.13,117.65 600.80,117.83 C601.47,118.02 602.13,118.21 602.80,118.39 C603.47,118.58 604.13,118.77 604.80,118.96 C605.47,119.15 606.13,119.34 606.80,119.53 C607.47,119.72 608.13,119.91 608.80,120.10 C609.47,120.29 610.13,120.48 610.80,120.67 C611.47,120.86 612.13,121.05 612.80,121.24 C613.47,121.43 614.13,121.62 614.80,121.81 C615.47,122.00 616.13,122.19 616.80,122.38 C617.47,122.57 618.13,122.75 618.80,122.94 C619.47,123.12 620.13,123.31 620.80,123.49 C621.47,123.67 622.13,123.86 622.80,124.03 C623.47,124.21 624.13,124.39 624.80,124.57 C625.47,124.74 626.13,124.92 626.80,125.09 C627.47,125.26 628.13,125.43 628.80,125.59 C629.47,125.76 630.13,125.92 630.80,126.08 C631.47,126.24 632.13,126.40 632.80,126.56 C633.47,126.71 634.13,126.86 634.80,127.01 C635.47,127.16 636.13,127.30 636.80,127.44 C637.47,127.58 638.13,127.72 638.80,127.85 C639.47,127.98 640.13,128.11 640.80,128.23 C641.47,128.36 642.13,128.48 642.80,128.59 C643.47,128.71 644.13,128.82 644.80,128.92 C645.47,129.03 646.13,129.13 646.80,129.22 C647.47,129.32 648.13,129.41 648.80,129.49 C649.47,129.58 650.13,129.66 650.80,129.73 C651.47,129.80 652.13,129.87 652.80,129.93 C653.47,129.99 654.13,130.05 654.80,130.10 C655.47,130.14 656.13,130.19 656.80,130.22 C657.47,130.26 658.13,130.29 658.80,130.31 C659.47,130.33 660.13,130.35 660.80,130.35 C661.47,130.36 662.13,130.36 662.80,130.36 C663.47,130.35 664.28,130.33 664.80,130.31 C665.32,130.30 665.72,130.28 665.90,130.27" fill="none" stroke="#8b0000" stroke-width="1.9"/>
<g fill="#ffd200" stroke="#262000" stroke-width="0.7"><circle cx="396.50" cy="290.40" r="1.7"/>
<circle cx="402.11" cy="283.10" r="1.7"/>
<circle cx="407.72" cy="278.80" r="1.7"/>
<circle cx="413.32" cy="291.10" r="1.7"/>
<circle cx="418.93" cy="292.50" r="1.7"/>
<circle cx="424.54" cy="282.40" r="1.7"/>
<circle cx="430.15" cy="288.80" r="1.7"/>
<circle cx="435.76" cy="281.80" r="1.7"/>
<circle cx="441.36" cy="288.80" r="1.7"/>
<circle cx="446.97" cy="285.20" r="1.7"/>
<circle cx="452.58" cy="292.00" r="1.7"/>
<circle cx="458.19" cy="207.40" r="1.7"/>
<circle cx="463.80" cy="236.30" r="1.7"/>
<circle cx="469.40" cy="232.70" r="1.7"/>
<circle cx="475.01" cy="209.60" r="1.7"/>
<circle cx="480.62" cy="205.20" r="1.7"/>
<circle cx="486.23" cy="205.20" r="1.7"/>
<circle cx="491.84" cy="169.90" r="1.7"/>
<circle cx="497.44" cy="200.20" r="1.7"/>
<circle cx="503.05" cy="153.30" r="1.7"/>
<circle cx="508.66" cy="152.70" r="1.7"/>
<circle cx="514.27" cy="107.90" r="1.7"/>
<circle cx="519.88" cy="221.60" r="1.7"/>
<circle cx="525.48" cy="74.70" r="1.7"/>
<circle cx="531.09" cy="86.90" r="1.7"/>
<circle cx="536.70" cy="154.00" r="1.7"/>
<circle cx="542.31" cy="205.10" r="1.7"/>
<circle cx="547.92" cy="146.80" r="1.7"/>
<circle cx="553.52" cy="45.70" r="1.7"/>
<circle cx="559.13" cy="177.80" r="1.7"/>
<circle cx="564.74" cy="161.30" r="1.7"/>
<circle cx="570.35" cy="170.60" r="1.7"/>
<circle cx="575.96" cy="118.60" r="1.7"/>
<circle cx="581.56" cy="210.10" r="1.7"/>
<circle cx="587.17" cy="171.20" r="1.7"/>
<circle cx="592.78" cy="263.70" r="1.7"/>
<circle cx="598.39" cy="190.70" r="1.7"/>
<circle cx="604.00" cy="265.70" r="1.7"/>
<circle cx="609.60" cy="285.90" r="1.7"/>
<circle cx="615.21" cy="280.00" r="1.7"/>
<circle cx="620.82" cy="285.20" r="1.7"/>
<circle cx="626.43" cy="287.40" r="1.7"/>
<circle cx="632.04" cy="283.80" r="1.7"/>
<circle cx="643.25" cy="292.70" r="1.7"/>
<circle cx="648.86" cy="293.30" r="1.7"/>
<circle cx="654.47" cy="293.30" r="1.7"/>
<circle cx="660.08" cy="292.70" r="1.7"/>
<circle cx="665.68" cy="291.80" r="1.7"/></g>
<path d="M397.1,42 L397.1,21.8 L665.8,21.8 L665.8,125" class="dash"/>
<path d="M397.10,45.00 L395.00,38.40 L397.10,41.20 L399.20,38.40 Z" class="arr"/>
<path d="M665.80,128.80 L663.70,122.20 L665.80,125.00 L667.90,122.20 Z" class="arr"/>
</g>
<rect x="383.0" y="0.5" width="296.5" height="305.0" class="frame"/>
<line x1="44.40" y1="306.0" x2="44.40" y2="307.7" class="tick"/>
<line x1="100.56" y1="306.0" x2="100.56" y2="307.7" class="tick"/>
<line x1="156.72" y1="306.0" x2="156.72" y2="307.7" class="tick"/>
<line x1="212.88" y1="306.0" x2="212.88" y2="307.7" class="tick"/>
<line x1="269.04" y1="306.0" x2="269.04" y2="307.7" class="tick"/>
<line x1="325.20" y1="306.0" x2="325.20" y2="307.7" class="tick"/>
<line x1="390.40" y1="306.0" x2="390.40" y2="307.7" class="tick"/>
<line x1="446.80" y1="306.0" x2="446.80" y2="307.7" class="tick"/>
<line x1="503.20" y1="306.0" x2="503.20" y2="307.7" class="tick"/>
<line x1="559.60" y1="306.0" x2="559.60" y2="307.7" class="tick"/>
<line x1="616.00" y1="306.0" x2="616.00" y2="307.7" class="tick"/>
<line x1="672.40" y1="306.0" x2="672.40" y2="307.7" class="tick"/>
<g filter="url(#sh)"><text x="39.6" y="11.5" class="pl">(a)</text>
<text x="386.7" y="11.5" class="pl">(b)</text>
<text x="190.3" y="55" class="ann" text-anchor="middle">+916.7%</text>
<text x="537.8" y="17.5" class="ann" text-anchor="middle">-31.3%</text>
<text x="33.2" y="18.95" class="yl" text-anchor="end">500</text>
<text x="33.2" y="109.95" class="yl" text-anchor="end">250</text>
<text x="33.2" y="201.45" class="yl" text-anchor="end">0</text>
<text x="33.2" y="293.25" class="yl" text-anchor="end">-250</text>
<text x="378.7" y="63.95" class="yl" text-anchor="end">15</text>
<text x="378.7" y="141.95" class="yl" text-anchor="end">10</text>
<text x="378.7" y="219.95" class="yl" text-anchor="end">5</text>
<text x="378.7" y="297.75" class="yl" text-anchor="end">0</text>
<text x="44.70" y="316.1" class="tl" text-anchor="middle">1970</text>
<text x="100.86" y="316.1" class="tl" text-anchor="middle">1980</text>
<text x="157.02" y="316.1" class="tl" text-anchor="middle">1990</text>
<text x="213.18" y="316.1" class="tl" text-anchor="middle">2000</text>
<text x="269.34" y="316.1" class="tl" text-anchor="middle">2010</text>
<text x="325.50" y="316.1" class="tl" text-anchor="middle">2020</text>
<text x="390.70" y="316.1" class="tl" text-anchor="middle">1970</text>
<text x="447.10" y="316.1" class="tl" text-anchor="middle">1980</text>
<text x="503.50" y="316.1" class="tl" text-anchor="middle">1990</text>
<text x="559.90" y="316.1" class="tl" text-anchor="middle">2000</text>
<text x="616.30" y="316.1" class="tl" text-anchor="middle">2010</text>
<text x="672.70" y="316.1" class="tl" text-anchor="middle">2020</text>
<text x="182.7" y="332.2" class="xt" text-anchor="middle">year</text>
<text x="529.8" y="331.5" class="xt" text-anchor="middle">year</text>
<text transform="translate(10.1,158.5) rotate(-90)" class="yt" text-anchor="middle">non-native species abundance</text>
<text transform="translate(357.2,157.5) rotate(-90)" class="yt" text-anchor="middle">relative non-native species abundance [%]</text></g>
</svg>
</body></html>
